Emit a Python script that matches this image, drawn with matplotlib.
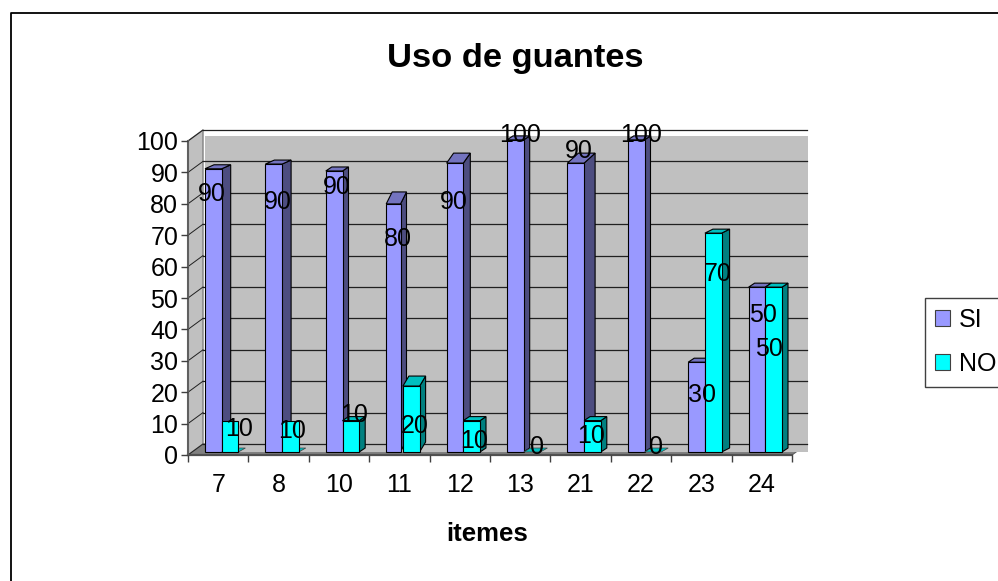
#Grouped pseudo-3D column chart
import matplotlib
matplotlib.use('Agg')
import matplotlib.pyplot as plt
from matplotlib.patches import Polygon, Patch

plt.rcParams['font.family'] = ['Liberation Sans', 'DejaVu Sans']

title = 'Uso de guantes'
xlabel = 'itemes'
items = ['7', '8', '10', '11', '12', '13', '21', '22', '23', '24']
yticks = [0, 10, 20, 30, 40, 50, 60, 70, 80, 90, 100]
series_names = ['SI', 'NO']

#what the labels say
si_labels = [90, 90, 90, 80, 90, 100, 90, 100, 30, 50]
no_labels = [10, 10, 10, 20, 10, 0, 10, 0, 70, 50]
#how tall the columns are drawn
si_heights = [90.2, 91.7, 89.5, 79, 92, 99.4, 92, 99.4, 28.6, 52.5]
no_heights = [10, 10, 10, 21, 10, 0, 10, 0, 69.7, 52.5]

#width and depth of each column, pixels (the picture is uneven)
si_w = [16.7, 16.7, 16.7, 14.3, 16.7, 16.7, 16.7, 16.7, 16.7, 16.7]
si_dx = [9, 9, 6, 6, 7, 6, 11, 6, 6, 6]
si_dy = [4, 4, 4, 12, 10, 4, 10, 4, 4, 4]
no_dx = [0, 0, 6, 6, 6, 0, 6, 0, 8, 6]
no_dy = [0, 0, 4, 10, 4, 0, 4, 0, 4, 4]

#label centres, figure pixels from the top left
si_label_xy = [(212, 194), (278, 202), (337, 187), (398, 239), (454, 202),
               (520, 135), (579, 151), (641, 135), (702, 395), (763, 315)]
no_label_xy = [(239, 429), (292, 431), (354, 415), (415, 426), (474, 441),
               (537, 447), (591, 436), (656, 447), (718, 274), (769, 349)]

W, H = 998, 581
fig = plt.figure(figsize=(W/100, H/100), dpi=100)

#axes box is the front of the chart: x 188-792, y 455-141
ax = fig.add_axes([188/W, 1-455/H, (792-188)/W, (455-141)/H])
ax.set_xlim(0, len(items))
ax.set_ylim(0, 100)
ax.patch.set_visible(False)
for s in ax.spines.values():
    s.set_visible(False)

px_x = len(items)/(792-188)    #data units per pixel
px_y = 100/(455-141)
depth_x = 15*px_x
depth_y = 11*px_y
base = 3*px_y                  #columns stand a little above the front edge

def poly(pts, fc, ec='none', lw=0.8, z=1):
    ax.add_patch(Polygon(pts, closed=True, fc=fc, ec=ec, lw=lw, zorder=z, clip_on=False))

#outer chart border
fig.add_artist(plt.Line2D([10.5/W, 10.5/W, 1], [0, 1-12.5/H, 1-12.5/H], color='black', lw=1.3))

#back wall, floor, grey panel, side wall
wall_r = len(items)+depth_x
poly([(depth_x, depth_y), (wall_r, depth_y), (wall_r, 100+depth_y), (depth_x, 100+depth_y)], 'white')
poly([(0, 0), (len(items), 0), (wall_r, depth_y), (depth_x, depth_y)], '#808080', ec='#606060', z=1.05)
poly([(17*px_x, base), (wall_r+px_x, base), (wall_r+px_x, 100+depth_y-6*px_y), (17*px_x, 100+depth_y-6*px_y)], '#C0C0C0', z=1.1)
poly([(0, 0), (depth_x, depth_y), (depth_x, 100+depth_y), (0, 100)], '#C0C0C0', ec='#808080', lw=1, z=1.2)
for v in yticks:
    ax.plot([depth_x, wall_r], [v+depth_y, v+depth_y], color='#202020', lw=0.9, zorder=1.3, clip_on=False)
    ax.plot([0, depth_x], [v, v+depth_y], color='#202020', lw=0.7, zorder=1.3, clip_on=False)
ax.plot([0, len(items)], [0, 0], color='#505050', lw=1.6, zorder=1.5, clip_on=False)
ax.plot([0, 0], [0, 100], color='#606060', lw=1.5, zorder=1.5, clip_on=False)

#columns
bar_w = 16.7*px_x
bar_off = 17*px_x
def column(x0, w, h, dx, dy, front, side, top, z):
    b = base
    dx = dx*px_x
    dy = dy*px_y
    if dx > 0:
        poly([(x0+w, b), (x0+w+dx, b+dy), (x0+w+dx, b+h+dy), (x0+w, b+h)], side, ec='black', z=z)
        poly([(x0, b+h), (x0+dx, b+h+dy), (x0+w+dx, b+h+dy), (x0+w, b+h)], top, ec='black', z=z)
    else:
        #no depth drawn, only the foot of the column shows on the floor
        foot_x = 7*px_x
        foot_y = 4*px_y
        poly([(x0, b), (x0+foot_x, b+foot_y), (x0+w+foot_x, b+foot_y), (x0+w, b)], top, ec='#404040', lw=0.5, z=z)
    if h > 0:
        poly([(x0, b), (x0+w, b), (x0+w, b+h), (x0, b+h)], front, ec='black', z=z+0.01)

for i in range(len(items)):
    x0 = i+bar_off
    column(x0, si_w[i]*px_x, si_heights[i], si_dx[i], si_dy[i], '#9999FF', '#4D4D80', '#7373BF', 2+i*0.1)
    column(x0+bar_w, bar_w, no_heights[i], no_dx[i], no_dy[i], '#00FFFF', '#008080', '#00BFBF', 2.05+i*0.1)

#ticks and labels
ax.set_xticks(range(len(items)+1))
ax.set_xticklabels([])
ax.set_xticks([i+0.5 for i in range(len(items))], minor=True)
ax.set_xticklabels(items, minor=True, fontsize=18)
ax.tick_params(axis='x', which='major', length=5, width=1, color='#404040')
ax.tick_params(axis='x', which='minor', length=0, pad=13)
ax.set_yticks(yticks)
ax.tick_params(axis='y', length=5, width=1, color='#404040', labelsize=18, pad=2)

for val, (x, y) in zip(si_labels+no_labels, si_label_xy+no_label_xy):
    fig.text(x/W, 1-y/H, str(val), fontsize=18, ha='center', va='center', color='black', zorder=10)

fig.text(515.5/W, 1-67/H, title, fontsize=24.8, fontweight='bold', ha='center', va='baseline')
fig.text(487/W, 1-541/H, xlabel, fontsize=18.5, fontweight='bold', ha='center', va='baseline')

handles = [Patch(fc='#9999FF', ec='#404040', lw=0.8), Patch(fc='#00FFFF', ec='#404040', lw=0.8)]
leg = fig.legend(handles, series_names, loc='upper left', bbox_to_anchor=(924.5/W, 1-297.5/H),
                 fontsize=18, frameon=True, fancybox=False, edgecolor='#404040', framealpha=1,
                 handlelength=0.6, handleheight=0.6, handletextpad=0.36, borderaxespad=0,
                 borderpad=0.42, labelspacing=0.8)

plt.savefig('out.png', dpi=100)
